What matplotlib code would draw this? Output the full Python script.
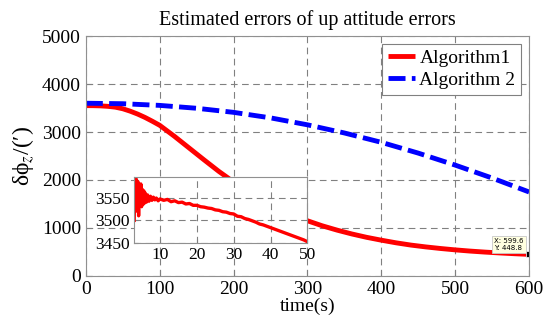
import numpy as np
import matplotlib
matplotlib.use("Agg")
import matplotlib.pyplot as plt

plt.rcParams['font.family'] = ['Liberation Serif', 'DejaVu Serif']
plt.rcParams['mathtext.fontset'] = 'stix'

# Algorithm 1 (main curve)
t1 = [0, 10, 20, 30, 40, 50, 60, 70, 80, 90, 100, 120, 140, 160, 180, 200, 220, 240, 260,
      280, 300, 320, 340, 360, 380, 400, 420, 440, 460, 480, 500, 520, 540, 560, 580, 600]
err1 = [3550, 3549, 3545, 3535, 3518, 3485, 3435, 3375, 3305, 3225, 3140, 2910, 2665, 2420,
        2180, 1960, 1755, 1570, 1410, 1270, 1150, 1045, 955, 875, 805, 745, 690, 643, 605,
        572, 543, 518, 497, 479, 463, 449]

# Algorithm 2
t2 = [0, 50, 100, 150, 200, 250, 300, 350, 400, 450, 500, 550, 600]
err2 = [3600, 3590, 3555, 3495, 3410, 3295, 3150, 2980, 2785, 2560, 2310, 2040, 1750]

# zoomed view of Algorithm 1, first 50 s
t_in = [3.0, 3.2, 3.4, 3.6, 3.8, 4.0, 4.2, 4.4, 4.6, 4.8, 5.0, 5.2, 5.4, 5.6, 5.8, 6.0,
        6.3, 6.6, 7.0, 7.4, 7.8, 8.2, 8.6, 9.0, 9.5, 10, 11, 12, 13, 14, 15, 16, 17, 18,
        19, 20, 21, 22, 23, 24, 25, 26, 27, 28, 29, 30, 31, 32, 33, 34, 35, 36, 37, 38,
        39, 40, 41, 42, 43, 44, 45, 46, 47, 48, 49, 50]
v_in = [3500, 3598, 3520, 3590, 3530, 3585, 3510, 3575, 3540, 3580, 3530, 3568, 3535, 3565,
        3538, 3560, 3540, 3556, 3542, 3553, 3544, 3551, 3545, 3549, 3543, 3547, 3544, 3546,
        3541, 3543, 3539, 3540, 3536, 3537, 3533, 3533, 3530, 3529, 3527, 3526, 3523, 3522,
        3519, 3518, 3515, 3514, 3509, 3508, 3504, 3502, 3499, 3496, 3492, 3490, 3487, 3484,
        3481, 3478, 3475, 3472, 3469, 3466, 3463, 3460, 3457, 3453]

tip_x, tip_y = 599.6, 448.8

fig = plt.figure(figsize=(5.5, 3.25), dpi=100)
ax = fig.add_axes([0.156, 0.151, 0.806, 0.738])

ax.plot(t1, err1, color='red', lw=3.5, solid_capstyle='butt', label='Algorithm1')
ax.plot(t2, err2, color='blue', lw=3.5, linestyle=(0, (3.5, 1.3)), label='Algorithm 2')
ax.plot([tip_x], [tip_y], marker='s', color='black', ms=4, markeredgecolor='white', mew=0.5)
ax.annotate(f"X: {tip_x}\nY: {tip_y}", (tip_x, tip_y), xytext=(-25, 3),
            textcoords='offset points', fontsize=5, family='DejaVu Sans',
            bbox=dict(boxstyle='square,pad=0.3', fc='#ffffe0', ec='#c8c8c8', lw=0.6))

ax.set_xlim(0, 600)
ax.set_ylim(0, 5000)
ax.set_xticks(range(0, 601, 100))
ax.set_yticks(range(0, 5001, 1000))
ax.tick_params(labelsize=14, direction='in', length=4, color='#808080')
ax.grid(color='#808080', linestyle=(0, (6, 4)), linewidth=0.8)
for s in ax.spines.values():
    s.set_color('#909090')
ax.set_title('Estimated errors of up attitude errors', fontsize=14.5, pad=8)
ax.set_xlabel('time(s)', fontsize=14, labelpad=0)
ax.set_ylabel('δϕ$_z$/(′)', fontsize=17, labelpad=4)
leg = ax.legend(loc='upper right', fontsize=14, fancybox=False, framealpha=1,
                edgecolor='#808080', handlelength=1.4, handletextpad=0.2,
                borderpad=0.3, labelspacing=0.2, borderaxespad=0.4)
leg.get_frame().set_linewidth(0.8)

ins = fig.add_axes([0.244, 0.252, 0.315, 0.203])
ins.plot(t_in, v_in, color='red', lw=2.4)
ins.set_xlim(3, 50)
ins.set_ylim(3450, 3595)
ins.set_xticks([10, 20, 30, 40, 50])
ins.set_yticks([3450, 3500, 3550])
ins.tick_params(labelsize=12.5, direction='in', length=3, color='#808080', pad=3)
ins.grid(color='#808080', linestyle=(0, (6, 4)), linewidth=0.8)
for s in ins.spines.values():
    s.set_color('#909090')

fig.savefig('out.png', dpi=100)
